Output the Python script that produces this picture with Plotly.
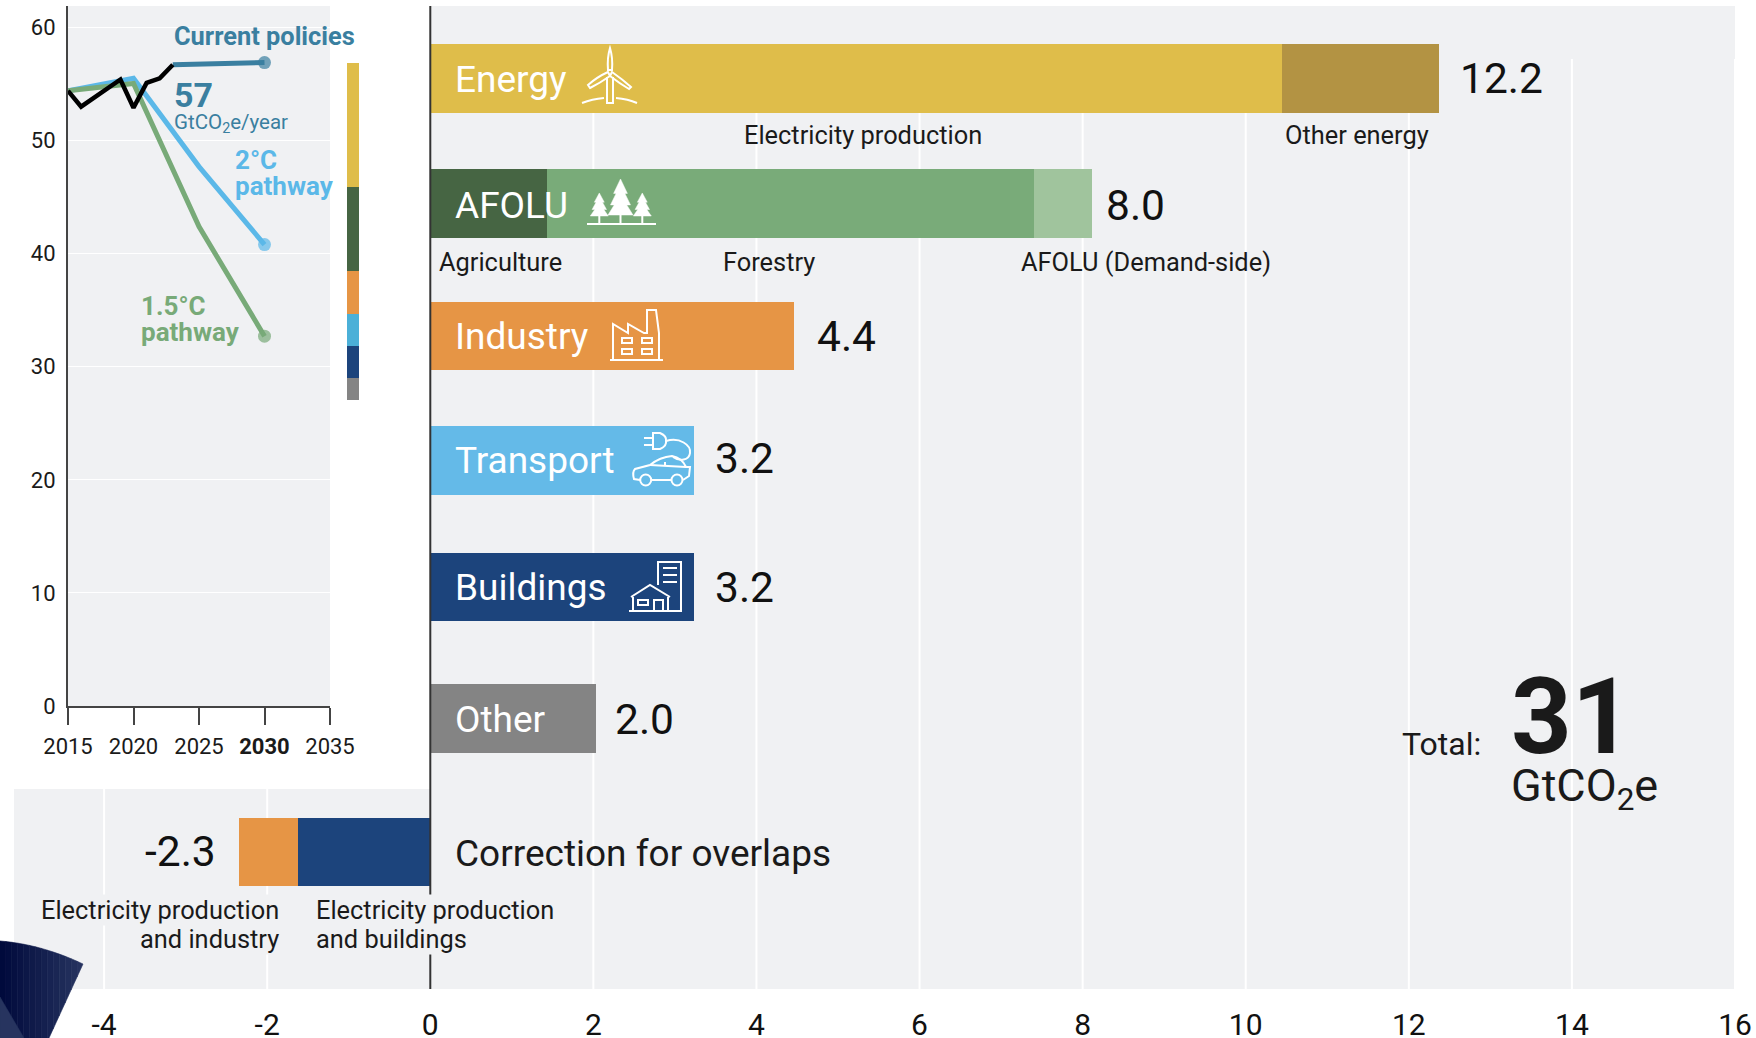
import re
import plotly.graph_objects as go

W, H = 1756, 1038
FONT = "Roboto"
PANEL = "#f0f1f3"
INK = "#1a1a1a"

# ---- data: sector emission-reduction potentials (GtCO2e) ----
SECTORS = ["Energy", "AFOLU", "Industry", "Transport", "Buildings", "Other", "Correction for overlaps"]
SECTOR_LABELS = ["12.2", "8.0", "4.4", "3.2", "3.2", "2.0", "-2.3"]
ELECTRICITY = [10.44]
OTHER_ENERGY = [1.93]
AGRICULTURE = [1.43]
FORESTRY = [5.97]
AFOLU_DEMAND = [0.72]
INDUSTRY = [4.46]
TRANSPORT = [3.24]
BUILDINGS = [3.24]
OTHER = [2.03]
OVERLAP_BUILDINGS = [-1.62]
OVERLAP_INDUSTRY = [-0.72]
MAIN_TICKS = [-4, -2, 0, 2, 4, 6, 8, 10, 12, 14, 16]

# ---- data: emission pathways (GtCO2e/year) ----
HIST_YEARS = [2015, 2016, 2019, 2020, 2021, 2022, 2023]
HIST_VALUES = [54.4, 53.0, 55.4, 52.9, 55.1, 55.5, 56.7]
POLICY_YEARS = [2023, 2030]
POLICY_VALUES = [56.7, 56.9]
PATH_YEARS = [2015, 2020, 2025, 2030]
PATH_2C = [54.4, 55.5, 47.7, 40.8]
PATH_15C = [54.4, 55.05, 42.4, 32.7]
INSET_X_TICKS = [2015, 2020, 2025, 2030, 2035]
INSET_X_LABELS = ["2015", "2020", "2025", "<b>2030</b>", "2035"]
INSET_Y_TICKS = [0, 10, 20, 30, 40, 50, 60]

# ---- data: the gap between current policies and 1.5C, bottom to top ----
GAP_FLOOR = 27.1
GAP_OTHER = 1.9
GAP_BUILDINGS = 2.8
GAP_TRANSPORT = 2.9
GAP_INDUSTRY = 3.8
GAP_AFOLU = 7.4
GAP_ENERGY = 11.0

# ---- layout constants (row centres along the main chart's y axis) ----
ROW_POS = [0.005, 0.982, 2.017, 2.989, 3.975, 5.005, 6.047]
BAR_W = 0.535


def fx(x):
    return x / W


def fy(y):
    return 1 - y / H


def path(d):
    """SVG-like path in page pixels -> path in paper coordinates."""
    toks = re.findall(r"[A-Za-z]|-?[\d.]+", d)
    out, isx = [], True
    for t in toks:
        if t.isalpha():
            out.append(t)
            isx = True
        else:
            out.append(f"{fx(float(t)):.5f}" if isx else f"{fy(float(t)):.5f}")
            isx = not isx
    return " ".join(out)


shapes = []


def rect(x0, y0, x1, y1, color):
    shapes.append(dict(type="rect", xref="paper", yref="paper", x0=fx(x0), x1=fx(x1), y0=fy(y0), y1=fy(y1),
                       fillcolor=color, line=dict(width=0), layer="below"))


def icon(d, fill=None, width=2, color="white"):
    shapes.append(dict(type="path", xref="paper", yref="paper", path=path(d),
                       fillcolor=fill if fill else "rgba(0,0,0,0)",
                       line=dict(color=color, width=width), layer="above"))


def circle(cx, cy, r, fill=None):
    shapes.append(dict(type="circle", xref="paper", yref="paper", x0=fx(cx - r), x1=fx(cx + r), y0=fy(cy - r), y1=fy(cy + r),
                       fillcolor=fill if fill else "rgba(0,0,0,0)", line=dict(color="white", width=2), layer="above"))


# panels
rect(430, 6, 1735, 989, PANEL)
rect(14, 789, 430, 989, PANEL)
rect(68, 6, 330, 706, PANEL)

# main grid
for t in MAIN_TICKS:
    if t == 0:
        continue
    top = 789 if t < 0 else 59
    shapes.append(dict(type="line", xref="x", yref="paper", x0=t, x1=t, y0=fy(top), y1=fy(989),
                       line=dict(color="white", width=2), layer="below"))
shapes.append(dict(type="line", xref="x", yref="paper", x0=0, x1=0, y0=fy(6), y1=fy(989),
                   line=dict(color="#333333", width=2), layer="above"))

# wind turbine
icon("M 610 48 Q 613 58 612 70 L 608 70 Q 607 58 610 48 Z")
icon("M 588 85 Q 597 77 608 72 L 610 76 Q 600 83 590 88 Z")
icon("M 631 87 Q 622 79 612 72 L 610 76 Q 619 83 629 89 Z")
icon("M 607 77 L 607 103 L 613 103 L 613 77")
icon("M 582 103 Q 592 99 604 98")
icon("M 616 98 Q 628 99 637 103")

# trees
for cx, top, bot, hw in [(599.3, 193, 216, 9), (620.5, 179, 215, 12.5), (642.3, 193, 216, 9)]:
    h = bot - top
    icon(f"M {cx} {top} L {cx - hw * .55} {top + h * .4} L {cx - hw * .35} {top + h * .4} "
         f"L {cx - hw * .8} {top + h * .72} L {cx - hw * .5} {top + h * .72} L {cx - hw} {bot} "
         f"L {cx + hw} {bot} L {cx + hw * .5} {top + h * .72} L {cx + hw * .8} {top + h * .72} "
         f"L {cx + hw * .35} {top + h * .4} L {cx + hw * .55} {top + h * .4} Z", fill="white", width=0.5)
    icon(f"M {cx} {bot} L {cx} 224")
icon("M 587 224 L 656 224")

# factory
icon("M 610 360 L 663 360")
icon("M 613 360 L 613 324 L 628 333 L 628 324 L 644 333 L 647 333 L 647 310 L 656 310 L 659 333 L 659 360")
for x0, x1, y0, y1 in [(622, 632, 338, 343), (642, 652, 338, 343), (622, 632, 349, 354), (642, 652, 349, 354)]:
    icon(f"M {x0} {y0} L {x1} {y0} L {x1} {y1} L {x0} {y1} Z")

# electric car
icon("M 653 433 L 660 433 Q 667 436 666 441 Q 667 446 660 449 L 653 449 Z")
icon("M 644 438 L 653 438 M 644 445 L 653 445")
icon("M 666 441 C 680 437 691 445 690 453 C 689 460 680 462 673 457")
icon("M 640 480 L 634 479 Q 632 472 635 469 L 650 465 Q 660 457 672 456 Q 682 458 686 467 L 690 467 L 689 476 L 683 480")
icon("M 652 480 L 671 480")
icon("M 665 462 L 665 466 M 650 465 L 686 467")
circle(645.7, 480, 5.5)
circle(677, 480, 5.5)

# building
icon("M 658 585 L 658 562 L 681 562 L 681 611")
icon("M 663 568 L 677 568 M 663 575 L 677 575 M 663 582 L 677 582")
icon("M 631 597 L 650 585 L 670 597")
icon("M 633 597 L 633 611 M 668 597 L 668 611")
icon("M 629 611 L 682 611")
icon("M 638 600 L 648 600 L 648 605 L 638 605 Z")
icon("M 654 611 L 654 600 L 663 600 L 663 611")


# corner decoration: a fan cut off by the page edge, dark to lighter navy from left to right
def fan_top(x):
    return 941 + 0.08 * x + 0.002375 * x * x


def fan_bottom(x):
    return min(1038, 964 + (83 - x) * 74 / 34)


STEPS = 14
for i in range(STEPS):
    xa, xb = 83 * i / STEPS, 83 * (i + 1) / STEPS
    t = i / (STEPS - 1)
    col = "#%02x%02x%02x" % (round(0 + 38 * t), round(10 + 41 * t), round(60 + 35 * t))
    pts = [(xa, fan_top(xa)), (xb, fan_top(xb)), (xb, fan_bottom(xb))]
    if xa < 49 < xb:
        pts.append((49, 1038))
    pts.append((xa, fan_bottom(xa)))
    d = "M " + " L ".join(f"{px:.2f} {py:.2f}" for px, py in pts) + " Z"
    icon(d, fill=col, width=0.6, color=col)
icon("M 0 997 L 24 1038 L 0 1038 Z", fill="#27345f", width=0.5, color="#27345f")

fig = go.Figure()


def bar(values, row, color):
    fig.add_trace(go.Bar(x=values, y=[ROW_POS[row]], orientation="h", width=BAR_W, marker=dict(color=color, line=dict(width=0)),
                         xaxis="x", yaxis="y", showlegend=False, hoverinfo="skip"))


bar(ELECTRICITY, 0, "#dfbd4a")
bar(OTHER_ENERGY, 0, "#b39343")
bar(AGRICULTURE, 1, "#466543")
bar(FORESTRY, 1, "#79ab79")
bar(AFOLU_DEMAND, 1, "#a0c49d")
bar(INDUSTRY, 2, "#e69545")
bar(TRANSPORT, 3, "#64bae8")
bar(BUILDINGS, 4, "#1c447c")
bar(OTHER, 5, "#848484")
bar(OVERLAP_BUILDINGS, 6, "#1c447c")
bar(OVERLAP_INDUSTRY, 6, "#e69545")

# gap stack next to the inset
for val, col in [(GAP_FLOOR, "rgba(0,0,0,0)"), (GAP_OTHER, "#848484"), (GAP_BUILDINGS, "#1c447c"),
                 (GAP_TRANSPORT, "#4bb0d8"), (GAP_INDUSTRY, "#e69545"), (GAP_AFOLU, "#466543"), (GAP_ENERGY, "#dfbd4a")]:
    fig.add_trace(go.Bar(x=[0.5], y=[val], width=1, marker=dict(color=col, line=dict(width=0)),
                         xaxis="x3", yaxis="y2", showlegend=False, hoverinfo="skip"))


def line(xs, ys, color, width, end=13):
    sizes = [0] * (len(xs) - 1) + [end]
    fig.add_trace(go.Scatter(x=xs, y=ys, mode="lines+markers", line=dict(color=color, width=width),
                             marker=dict(size=sizes, color=color, line=dict(width=0)),
                             xaxis="x2", yaxis="y2", showlegend=False, hoverinfo="skip", cliponaxis=False))


line(PATH_YEARS, PATH_2C, "#5bb8e8", 5)
line(PATH_YEARS, PATH_15C, "#78aa78", 5)
line(POLICY_YEARS, POLICY_VALUES, "#3a7fa0", 5)
line(HIST_YEARS, HIST_VALUES, "#000000", 4.5, end=0)

ann = []


def text(s, x, y, size, color=INK, anchor="left", bg=None, align=None):
    ann.append(dict(text=s, xref="paper", yref="paper", x=fx(x), y=fy(y), xanchor=anchor, yanchor="middle",
                    showarrow=False, align=align or anchor, bgcolor=bg,
                    font=dict(family=FONT, size=size, color=color), borderpad=0))


for name, yy in zip(SECTORS[:6], [79, 205, 336, 460, 587, 719]):
    text(name, 454, yy, 37, "white")
for lab, xx, yy in zip(SECTOR_LABELS[:6], [1459, 1105, 816, 714, 714, 614], [78, 205, 337, 459, 587, 719]):
    text(lab, xx, yy, 42.5, "#111111")
text(SECTOR_LABELS[6], 217, 851, 42.5, "#111111", "right")
text(SECTORS[6], 454, 853, 37)

text("Electricity production", 863, 135, 25.4, anchor="center")
text("Other energy", 1357, 135, 25.4, anchor="center")
text("Agriculture", 437.5, 262, 25.4)
text("Forestry", 769, 262, 25.4, anchor="center")
text("AFOLU (Demand-side)", 1146, 262, 25.4, anchor="center")
text("Electricity production", 280, 910, 25.4, anchor="right", bg=PANEL)
text("and industry", 280, 939, 25.4, anchor="right", bg=PANEL)
text("Electricity production", 314.5, 910, 25.4, anchor="left", bg=PANEL)
text("and buildings", 314.5, 939, 25.4, anchor="left", bg=PANEL)

text("Total:", 1401, 744, 32)
text("<b>31</b>", 1510, 717, 106)
text("GtCO<sub>2</sub>e", 1510, 788, 45)

TEAL = "#3a7fa0"
text("<b>Current policies</b>", 172.5, 36, 25.4, TEAL)
text("<b>57</b>", 172.5, 95, 34, TEAL)
text("GtCO<sub>2</sub>e/year", 172.5, 124, 20.5, TEAL)
text("<b>2°C</b>", 233.5, 160, 26, "#5bb8e8")
text("<b>pathway</b>", 233.5, 186, 26, "#5bb8e8")
text("<b>1.5°C</b>", 140, 306, 26, "#78aa78")
text("<b>pathway</b>", 140, 332, 26, "#78aa78")

fig.update_layout(
    width=W, height=H, margin=dict(l=0, r=0, t=0, b=0, autoexpand=False), paper_bgcolor="white", plot_bgcolor="rgba(0,0,0,0)",
    barmode="stack", showlegend=False, shapes=shapes, annotations=ann,
    font=dict(family=FONT, color=INK),
    xaxis=dict(domain=[fx(14), fx(1735)], range=[-5.105, 16.0], tickvals=MAIN_TICKS, ticktext=[str(t) for t in MAIN_TICKS],
               showgrid=False, zeroline=False, showline=False, ticks="", tickfont=dict(size=30, family=FONT, color="#111111"),
               ticklabelstandoff=15, anchor="y", automargin=False),
    yaxis=dict(domain=[fy(989), fy(6)], range=[7.117, -0.5625], visible=False, anchor="x", automargin=False),
    xaxis2=dict(domain=[fx(68), fx(330)], range=[2015, 2035], tickvals=INSET_X_TICKS, ticktext=INSET_X_LABELS,
                showgrid=False, zeroline=False, showline=True, linecolor="#444444", linewidth=2,
                ticks="outside", ticklen=17, tickwidth=2, tickcolor="#444444",
                tickfont=dict(size=22, family=FONT, color=INK), ticklabelstandoff=3, anchor="y2", automargin=False),
    yaxis2=dict(domain=[fy(706), fy(6)], range=[0, 61.9], tickvals=INSET_Y_TICKS, showgrid=True, gridcolor="white", gridwidth=1,
                zeroline=False, showline=True, linecolor="#444444", linewidth=2, ticks="",
                tickfont=dict(size=22, family=FONT, color=INK), ticklabelstandoff=6, anchor="x2", automargin=False),
    xaxis3=dict(domain=[fx(347), fx(359)], range=[0, 1], visible=False, anchor="y2", automargin=False),
)

fig.write_html("out.html", config=dict(displayModeBar=False),
               post_script="document.body.style.margin='0';document.body.style.overflow='hidden';")
